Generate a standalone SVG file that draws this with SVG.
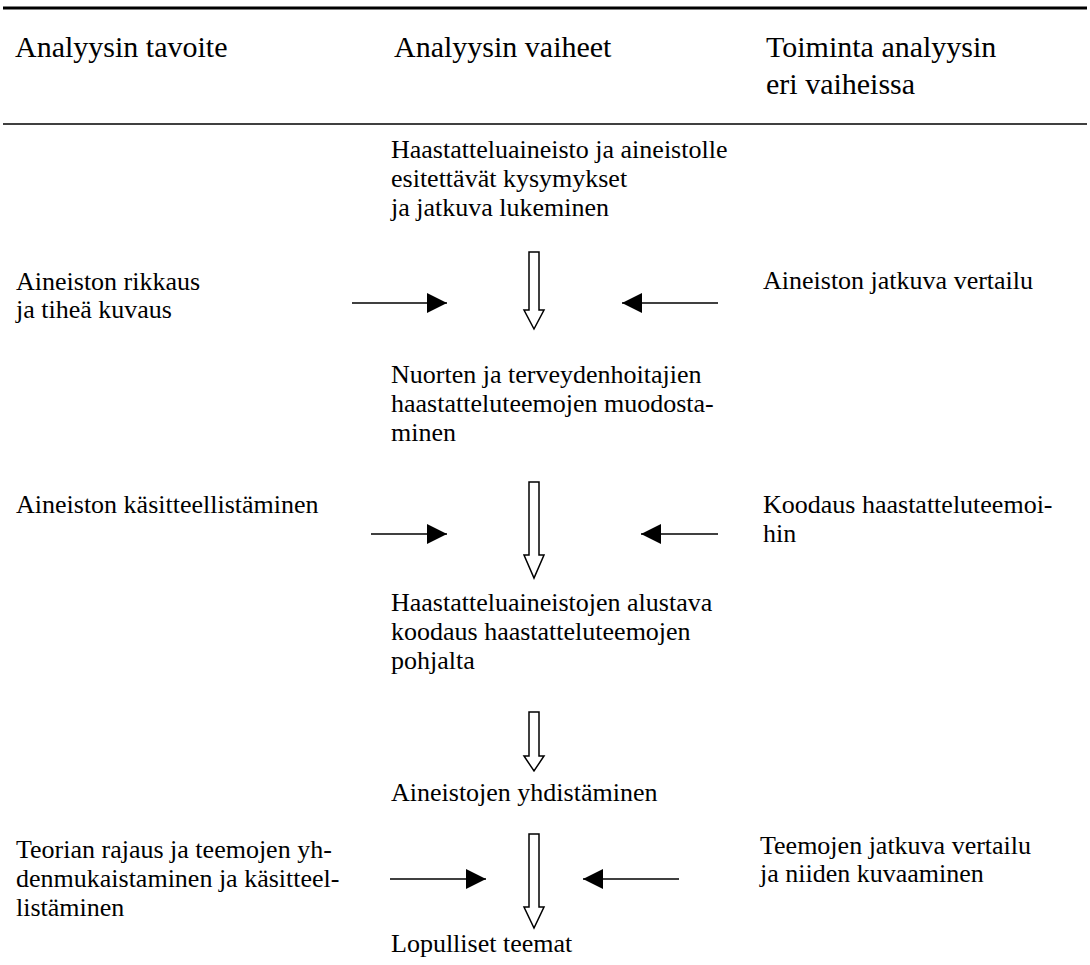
<svg xmlns="http://www.w3.org/2000/svg" width="1090" height="965" viewBox="0 0 1090 965">
<defs>
<style>
.h{font-size:30px}
.t{font-size:26px}
.rule{stroke:#000}
.con{stroke:#000;stroke-width:1.6;fill:none}
.hollow{fill:#fff;stroke:#000;stroke-width:1.5}
</style>
<marker id="ah" viewBox="0 0 20 20" refX="20" refY="10" markerWidth="20" markerHeight="20" markerUnits="userSpaceOnUse" orient="auto">
<path d="M0,0 L20,10 L0,20 Z" fill="#000"/>
</marker>
</defs>
<rect width="1090" height="965" fill="#fff"/>
<g font-family="'Liberation Serif', 'Times New Roman', 'DejaVu Serif', serif" fill="#000">
<g id="header">
<line class="rule" x1="3" y1="8" x2="1087" y2="8" stroke-width="3"/>
<text class="h" x="15" y="57">Analyysin tavoite</text>
<text class="h" x="394" y="57">Analyysin vaiheet</text>
<text class="h" x="766" y="57">Toiminta analyysin</text>
<text class="h" x="766" y="94">eri vaiheissa</text>
<line class="rule" x1="3" y1="124" x2="1087" y2="124" stroke-width="1.5"/>
</g>
<g id="n1"><text class="t" x="391" y="158">Haastatteluaineisto ja aineistolle</text><text class="t" x="391" y="187">esitettävät kysymykset</text><text class="t" x="391" y="216">ja jatkuva lukeminen</text></g>
<g id="n2"><text class="t" x="391" y="383">Nuorten ja terveydenhoitajien</text><text class="t" x="391" y="412">haastatteluteemojen muodosta-</text><text class="t" x="391" y="441">minen</text></g>
<g id="n3"><text class="t" x="391" y="611">Haastatteluaineistojen alustava</text><text class="t" x="391" y="640">koodaus haastatteluteemojen</text><text class="t" x="391" y="669">pohjalta</text></g>
<g id="n4"><text class="t" x="391" y="801">Aineistojen yhdistäminen</text></g>
<g id="n5"><text class="t" x="391" y="952">Lopulliset teemat</text></g>
<g id="l1"><text class="t" x="16" y="290">Aineiston rikkaus</text><text class="t" x="16" y="318">ja tiheä kuvaus</text></g>
<g id="l2"><text class="t" x="16" y="513">Aineiston käsitteellistäminen</text></g>
<g id="l3"><text class="t" x="16" y="858">Teorian rajaus ja teemojen yh-</text><text class="t" x="16" y="887">denmukaistaminen ja käsitteel-</text><text class="t" x="16" y="916">listäminen</text></g>
<g id="r1"><text class="t" x="763" y="289">Aineiston jatkuva vertailu</text></g>
<g id="r2"><text class="t" x="763" y="513">Koodaus haastatteluteemoi-</text><text class="t" x="763" y="542">hin</text></g>
<g id="r3"><text class="t" x="760" y="854">Teemojen jatkuva vertailu</text><text class="t" x="760" y="882">ja niiden kuvaaminen</text></g>
</g>
<g id="connectors">
<path class="hollow" d="M529,252 H539 V310 H544 L534,329 L524,310 H529 Z"/>
<path class="hollow" d="M529,482 H539 V555 H544 L534,578 L524,555 H529 Z"/>
<path class="hollow" d="M529,712 H539 V756 H544 L534,771 L524,756 H529 Z"/>
<path class="hollow" d="M529,834 H539 V907 H544 L534,928 L524,907 H529 Z"/>
<line class="con" x1="352" y1="303" x2="447" y2="303" marker-end="url(#ah)"/>
<line class="con" x1="718" y1="303" x2="622" y2="303" marker-end="url(#ah)"/>
<line class="con" x1="371" y1="534" x2="447" y2="534" marker-end="url(#ah)"/>
<line class="con" x1="718" y1="534" x2="641" y2="534" marker-end="url(#ah)"/>
<line class="con" x1="390" y1="879" x2="486" y2="879" marker-end="url(#ah)"/>
<line class="con" x1="679" y1="879" x2="583" y2="879" marker-end="url(#ah)"/>
</g>
</svg>
